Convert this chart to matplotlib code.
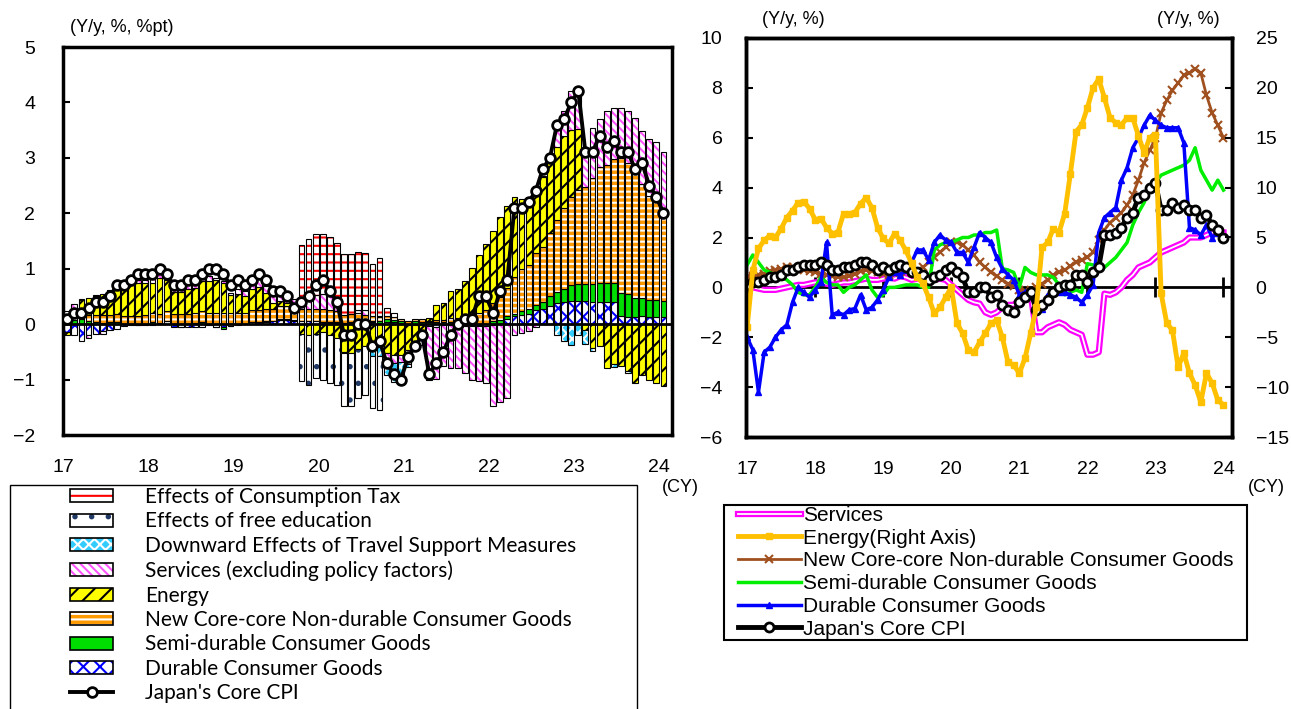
import numpy as np
import matplotlib.pyplot as plt
import matplotlib.patheffects as pe
from matplotlib.patches import Patch, Rectangle
from matplotlib.lines import Line2D
from matplotlib.legend_handler import HandlerTuple

plt.rcParams['font.family'] = ['Liberation Sans', 'DejaVu Sans']
plt.rcParams['hatch.linewidth'] = 1.5

months = np.arange(85)          # Jan 2017 .. Jan 2024
year_labels = ['17', '18', '19', '20', '21', '22', '23', '24']

core_cpi = [0.1, 0.2, 0.2, 0.3, 0.4, 0.4, 0.5, 0.7, 0.7, 0.8, 0.9, 0.9,
            0.9, 1.0, 0.9, 0.7, 0.7, 0.8, 0.8, 0.9, 1.0, 1.0, 0.9, 0.7,
            0.8, 0.7, 0.8, 0.9, 0.8, 0.6, 0.6, 0.5, 0.3, 0.4, 0.5, 0.7,
            0.8, 0.6, 0.4, -0.2, -0.2, 0.0, 0.0, -0.4, -0.3, -0.7, -0.9, -1.0,
            -0.6, -0.4, -0.2, -0.9, -0.7, -0.5, -0.2, 0.0, 0.1, 0.1, 0.5, 0.5,
            0.2, 0.6, 0.8, 2.1, 2.1, 2.2, 2.4, 2.8, 3.0, 3.6, 3.7, 4.0,
            4.2, 3.1, 3.1, 3.4, 3.2, 3.3, 3.1, 3.1, 2.8, 2.9, 2.5, 2.3,
            2.0]

# ---- left panel: contributions (%pt)
durable_c = [-0.15, -0.2, -0.3, -0.2, -0.17, -0.13, -0.11, -0.09, -0.04, 0.0, -0.01, -0.02,
             -0.01, 0.01, 0.05, -0.05, -0.05, -0.06, -0.05, -0.05, -0.02, -0.05, -0.05, -0.03,
             -0.02, 0.0, 0.03, 0.03, 0.04, 0.05, 0.08, 0.08, 0.06, 0.05, 0.06, 0.05,
             0.03, 0.02, 0.02, 0.0, 0.02, 0.05, 0.04, 0.03, 0.02, 0.04, 0.03, 0.02,
             -0.02, -0.01, -0.02, -0.04, -0.05, -0.02, -0.01, -0.01, -0.01, -0.02, -0.02, -0.03,
             -0.02, 0.01, 0.1, 0.14, 0.17, 0.19, 0.25, 0.28, 0.33, 0.38, 0.4, 0.42,
             0.42, 0.41, 0.4, 0.4, 0.4, 0.4, 0.14, 0.13, 0.12, 0.14, 0.12, 0.13,
             0.12]
semi_c = [0.06, 0.08, 0.09, 0.05, 0.03, 0.02, 0.03, 0.04, 0.0, -0.02, -0.01, 0.01,
          0.03, 0.01, 0.01, 0.0, -0.01, 0.0, 0.02, 0.03, 0.01, -0.01, -0.03, -0.01,
          0.0, 0.0, 0.01, 0.01, 0.01, 0.0, 0.01, 0.01, 0.01, 0.0, 0.0, 0.0,
          0.0, 0.01, 0.01, 0.02, 0.02, 0.03, 0.03, 0.02, 0.03, 0.05, 0.05, 0.04,
          0.0, 0.05, 0.04, 0.03, 0.03, 0.03, 0.03, 0.01, -0.02, -0.01, -0.01, -0.01,
          0.06, 0.06, 0.05, 0.05, 0.06, 0.08, 0.1, 0.12, 0.17, 0.2, 0.24, 0.28,
          0.3, 0.32, 0.33, 0.34, 0.34, 0.35, 0.43, 0.42, 0.36, 0.34, 0.32, 0.31,
          0.3]
nondur_c = [0.08, 0.1, 0.12, 0.12, 0.13, 0.14, 0.14, 0.15, 0.15, 0.15, 0.15, 0.16,
            0.17, 0.17, 0.18, 0.18, 0.18, 0.19, 0.19, 0.2, 0.2, 0.2, 0.2, 0.2,
            0.21, 0.21, 0.21, 0.22, 0.22, 0.22, 0.23, 0.24, 0.27, 0.22, 0.22, 0.23,
            0.24, 0.23, 0.2, 0.15, 0.14, 0.12, 0.1, 0.1, 0.08, 0.05, 0.05, 0.03,
            0.05, 0.05, 0.05, 0.03, 0.05, 0.05, 0.08, 0.1, 0.12, 0.15, 0.2, 0.25,
            0.33, 0.42, 0.5, 0.66, 0.77, 0.8, 0.93, 1.0, 1.15, 1.3, 1.45, 1.6,
            1.7, 1.75, 1.9, 2.1, 2.13, 2.23, 2.43, 2.35, 2.32, 2.04, 1.88, 1.78,
            1.65]
energy_c = [-0.05, 0.1, 0.22, 0.3, 0.35, 0.38, 0.42, 0.5, 0.5, 0.6, 0.6, 0.58,
            0.55, 0.65, 0.55, 0.4, 0.4, 0.45, 0.45, 0.55, 0.57, 0.6, 0.55, 0.33,
            0.33, 0.3, 0.38, 0.41, 0.3, 0.11, 0.1, 0.06, 0.0, -0.18, -0.2, -0.17,
            -0.15, -0.2, -0.25, -0.5, -0.52, -0.45, -0.4, -0.45, -0.42, -0.52, -0.55, -0.55,
            -0.45, -0.35, -0.25, 0.05, 0.27, 0.31, 0.48, 0.53, 0.66, 0.86, 1.04, 1.2,
            1.29, 1.44, 1.49, 1.45, 1.25, 1.22, 1.21, 1.26, 1.3, 1.32, 1.3, 1.2,
            1.1, -0.1, -0.43, -0.4, -0.79, -0.72, -0.76, -0.85, -1.06, -0.91, -1.0, -1.06,
            -1.12]
serv_c = [0.1, 0.08, 0.03, -0.05, 0.02, -0.05, 0.02, 0.03, 0.03, 0.04, 0.04, 0.04,
          0.06, 0.08, 0.05, 0.05, 0.05, 0.06, 0.05, 0.09, 0.08, 0.04, 0.03, 0.04,
          0.09, 0.09, 0.07, 0.15, 0.11, 0.15, 0.17, 0.15, 0.12, 0.15, 0.2, 0.25,
          0.28, 0.25, 0.15, -0.02, 0.0, 0.05, 0.08, 0.0, 0.02, -0.1, -0.15, -0.13,
          -0.25, -0.1, -0.1, -0.97, -0.94, -0.73, -0.79, -0.78, -0.85, -0.97, -1.0, -1.03,
          -1.45, -1.4, -1.33, -0.19, -0.16, -0.12, -0.05, 0.02, 0.1, 0.3, 0.45, 0.7,
          0.75, 0.53, 0.9, 0.86, 0.98, 0.92, 0.9, 0.95, 0.92, 0.96, 1.02, 1.06,
          1.03]
travel_c = [0] * 36 + \
           [0, 0, 0, 0, 0, 0, 0, -0.12, -0.15, -0.3, -0.35, -0.35] + \
           [-0.05] + [0] * 11 + \
           [0, 0, 0, 0, 0, 0, 0, 0, 0, -0.2, -0.3, -0.37] + \
           [-0.19, -0.25, -0.05, 0, 0, -0.05, 0, -0.03, 0, 0, 0, 0] + [0]
free_c = [0] * 33 + [-0.85, -0.89, -0.8] + \
         [-0.85, -0.86, -0.84, -0.96, -0.96, -0.88, -0.87, -0.94, -0.97, 0, 0, 0] + [0] * 37
tax_c = [0] * 33 + [1.0, 1.05, 1.09] + \
        [1.08, 1.06, 1.09, 1.09, 1.08, 1.06, 1.04, 0.93, 1.05, 0.15, 0.08, 0] + [0] * 37

# ---- right panel: y/y (%)
services_yy = [0.0, 0.0, -0.05, -0.1, -0.1, -0.1, -0.05, 0.0, 0.05, 0.1, 0.1, 0.15,
               0.2, 0.2, 0.15, 0.1, 0.15, 0.2, 0.2, 0.25, 0.3, 0.35, 0.3, 0.3,
               0.35, 0.4, 0.35, 0.45, 0.4, 0.3, 0.35, 0.4, 0.3, 0.3, 0.35, 0.3,
               0.1, -0.1, -0.3, -0.5, -0.6, -0.65, -1.0, -1.1, -1.0, -0.8, -0.7, -0.7,
               -0.5, -0.3, -0.3, -1.8, -1.8, -1.6, -1.5, -1.4, -1.5, -1.7, -1.8, -1.9,
               -2.7, -2.7, -2.6, -0.25, -0.3, -0.2, 0.0, 0.3, 0.5, 0.8, 0.9, 1.0,
               1.2, 1.4, 1.5, 1.6, 1.7, 1.8, 2.0, 2.0, 2.0, 2.1, 2.2, 2.2,
               2.2]
energy_yy = [-4.0, 1.7, 3.9, 4.7, 5.2, 5.0, 5.9, 7.0, 7.7, 8.5, 8.6, 7.9,
             6.8, 6.9, 6.0, 5.4, 5.5, 7.4, 7.4, 7.5, 8.4, 9.0, 8.0, 6.0,
             4.9, 4.4, 5.4, 4.7, 3.7, 2.4, 1.0, 0.4, -1.0, -2.6, -2.0, -1.0,
             0.0, -3.6, -4.6, -6.3, -6.5, -5.5, -4.6, -3.6, -3.3, -5.0, -7.5, -7.8,
             -8.6, -7.1, -4.6, -2.0, 4.0, 4.5, 5.9, 5.5, 7.4, 11.4, 15.6, 16.3,
             18.0, 20.0, 20.9, 19.0, 17.0, 16.5, 16.3, 17.0, 17.0, 15.2, 13.5, 15.0,
             15.3, -0.6, -3.6, -4.3, -8.0, -6.6, -8.6, -9.8, -11.5, -8.6, -9.6, -11.3,
             -11.8]
nondur_yy = [0.4, 0.45, 0.5, 0.55, 0.65, 0.7, 0.75, 0.8, 0.8, 0.75, 0.7, 0.65,
             0.6, 0.55, 0.5, 0.45, 0.4, 0.4, 0.45, 0.55, 0.65, 0.7, 0.65, 0.6,
             0.55, 0.5, 0.55, 0.6, 0.6, 0.6, 0.65, 0.8, 1.0, 1.2, 1.4, 1.6,
             1.8, 1.8, 1.7, 1.5, 1.3, 1.0, 0.8, 0.6, 0.45, 0.3, 0.15, 0.05,
             -0.1, -0.15, -0.1, 0.0, 0.15, 0.3, 0.5, 0.6, 0.7, 0.85, 1.0, 1.1,
             1.2, 1.4, 1.9, 2.3, 2.6, 2.8, 3.0, 3.3, 3.7, 4.3, 5.0, 5.5,
             6.0, 7.0, 7.5, 7.9, 8.2, 8.5, 8.6, 8.75, 8.6, 7.7, 7.0, 6.5,
             6.0]
semi_yy = [0.9, 1.3, 1.0, 0.7, 0.6, 0.5, 0.4, 0.3, 0.1, -0.2, -0.3, -0.3,
           0.0, 0.4, 0.2, 0.1, 0.1, -0.2, 0.0, 0.1, 0.3, 0.5, -0.1, -0.4,
           -0.3, 0.0, 0.0, 0.05, 0.1, 0.1, 0.1, 0.0, 0.0, 1.5, 1.7, 1.8,
           1.8, 1.9, 2.0, 2.0, 2.1, 2.1, 2.2, 2.2, 2.3, 0.75, 0.7, 0.6,
           0.0, 0.8, 0.6, 0.5, 0.5, 0.5, 0.4, 0.1, -0.3, -0.2, -0.1, -0.2,
           0.95, 0.9, 0.85, 0.8, 1.0, 1.2, 1.5, 1.8, 2.5, 3.0, 3.4, 4.0,
           4.2, 4.5, 4.6, 4.7, 4.8, 4.9, 5.1, 5.6, 4.7, 4.3, 3.9, 4.3,
           3.9]
durable_yy = [-2.0, -2.5, -4.2, -2.6, -2.4, -2.0, -1.7, -1.5, -0.6, 0.0, -0.2, -0.4,
              -0.1, 0.2, 1.8, -1.1, -1.0, -1.1, -0.9, -0.85, -0.3, -0.9, -0.8, -0.5,
              -0.1, 0.4, 0.6, 0.5, 0.7, 1.0, 1.5, 1.5, 1.1, 1.8, 2.1, 1.9,
              1.8, 1.4, 1.4, 1.0, 1.6, 2.2, 2.0, 1.8, 1.2, 0.75, 0.5, 0.3,
              -0.3, -0.2, -0.3, -0.65, -0.85, -0.3, -0.2, -0.2, -0.2, -0.3, -0.4, -0.6,
              -0.3, 0.1, 2.2, 2.8, 3.0, 3.2, 4.3, 4.8, 5.6, 6.0, 6.5, 6.9,
              6.7, 6.5, 6.4, 6.4, 6.4, 5.8, 2.4, 2.3, 2.1, 2.5, 2.0, 2.2,
              2.0]

W, H = 1291, 709
fig = plt.figure(figsize=(W / 100, H / 100), dpi=100)

def fx(px):
    return px / W

def fy(py):
    return 1 - py / H

# ================= left panel =================
ax = fig.add_axes([fx(63), fy(435), fx(672 - 63), (435 - 47) / H])

parts = [
    ('Durable Consumer Goods', durable_c, 'white', 'xx', '#0000FF'),
    ('Semi-durable Consumer Goods', semi_c, '#00DD00', '', '#00DD00'),
    ('New Core-core Non-durable Consumer Goods', nondur_c, '#FF9900', '---', 'white'),
    ('Energy', energy_c, '#FFFF00', '//', 'black'),
    ('Services (excluding policy factors)', serv_c, 'white', '\\\\\\\\', '#FF55FF'),
    ('Downward Effects of Travel Support Measures', travel_c, '#33CCFF', 'xxx', 'white'),
    ('Effects of free education', free_c, 'white', '.', '#1F3864'),
    ('Effects of Consumption Tax', tax_c, 'white', '--', '#FF0000'),
]

xb = months + 0.6
pos_base = np.zeros(len(months))
neg_base = np.zeros(len(months))
handles = {}
for label, vals, face, hatch, hcol in parts:
    v = np.array(vals, dtype=float)
    bottom = np.where(v >= 0, pos_base, neg_base)
    m = v != 0
    ax.bar(xb[m], v[m], 0.82, bottom=bottom[m], color=face, hatch=hatch,
           edgecolor=hcol, linewidth=0, zorder=2)
    ax.bar(xb[m], v[m], 0.82, bottom=bottom[m], facecolor='none',
           edgecolor='black', linewidth=0.8, zorder=2)
    pos_base += np.where(v > 0, v, 0)
    neg_base += np.where(v < 0, v, 0)
    handles[label] = (Patch(facecolor=face, hatch=hatch, edgecolor=hcol, linewidth=0),
                      Patch(facecolor='none', edgecolor='black', linewidth=1.2))

ax.axhline(0, color='black', lw=2, zorder=3)
ax.plot(xb, core_cpi, color='black', lw=2.8, marker='o', ms=7, mfc='white',
        mec='black', mew=2, zorder=5)

ax.set_xlim(0, 85.8)
ax.set_ylim(-2, 5)
ax.set_yticks(range(-2, 6))
ax.set_xticks(np.arange(0, 85, 12))
ax.set_xticklabels(year_labels)
ax.tick_params(axis='y', direction='in', length=5, width=1.5, labelsize=14, pad=20)
ax.tick_params(axis='x', length=0, labelsize=14, pad=17)
for s in ax.spines.values():
    s.set_linewidth(2.5)

fig.text(fx(70), fy(28), '(Y/y, %, %pt)', fontsize=13, va='center')
fig.text(fx(680), fy(488), '(CY)', fontsize=13, ha='center', va='center')

order = ['Effects of Consumption Tax', 'Effects of free education',
         'Downward Effects of Travel Support Measures', 'Services (excluding policy factors)',
         'Energy', 'New Core-core Non-durable Consumer Goods',
         'Semi-durable Consumer Goods', 'Durable Consumer Goods']
lh = [handles[k] for k in order]
lh.append(Line2D([], [], color='black', lw=2.8, marker='o', ms=7, mfc='white', mec='black', mew=2))
fig.patches.append(Rectangle((fx(10), -0.05), fx(637 - 10), fy(485) + 0.05,
                             transform=fig.transFigure, fill=False, ec='black', lw=1))
fig.legend(lh, order + ["Japan's Core CPI"], loc='upper left',
           bbox_to_anchor=(fx(70), fy(487)), frameon=False,
           prop={'family': 'Lato', 'size': 15}, handlelength=2.07, handleheight=0.6,
           handletextpad=1.55, labelspacing=0.215, borderpad=0, borderaxespad=0,
           handler_map={tuple: HandlerTuple(ndivide=1)})

# ================= right panel =================
ar = fig.add_axes([fx(746), fy(437), fx(1232 - 746), (437 - 38) / H])
ae = ar.twinx()

serv_fx = [pe.Stroke(linewidth=4.5, foreground='#FF00FF'), pe.Normal()]
ar.axhline(0, color='black', lw=2, zorder=1)
ar.plot(np.arange(0, 85, 12), np.zeros(8), ls='none', marker='|', ms=14, mew=2,
        color='black', zorder=1)
ar.plot(months, services_yy, color='white', lw=1.3, path_effects=serv_fx, zorder=2)
ar.plot(months, nondur_yy, color='#A0501E', lw=2, marker='x', ms=6, mew=1.5, zorder=3)
ar.plot(months, semi_yy, color='#00EE00', lw=2.5, zorder=3)
ar.plot(months, durable_yy, color='#0000FF', lw=2.5, marker='^', ms=4, zorder=4)
ar.plot(months, core_cpi, color='black', lw=3.5, marker='o', ms=6.5, mfc='white',
        mec='black', mew=2, zorder=5)
ae.plot(months, energy_yy, color='#FFC000', lw=3.5, marker='s', ms=5)

ar.set_xlim(-0.2, 85.5)
ar.set_ylim(-6, 10)
ar.set_yticks(range(-6, 11, 2))
ae.set_ylim(-15, 25)
ae.set_yticks(range(-15, 26, 5))
ar.set_xticks(np.arange(0, 85, 12))
ar.set_xticklabels(year_labels)
ar.tick_params(axis='y', direction='in', length=5, width=1.5, labelsize=14, pad=17)
ae.tick_params(axis='y', direction='in', length=5, width=1.5, labelsize=14, pad=17)
ar.tick_params(axis='x', length=0, labelsize=14, pad=17)
for a in (ar, ae):
    for s in a.spines.values():
        s.set_linewidth(2.5)

fig.text(fx(762), fy(20), '(Y/y, %)', fontsize=13, va='center')
fig.text(fx(1157), fy(20), '(Y/y, %)', fontsize=13, va='center')
fig.text(fx(1266), fy(487), '(CY)', fontsize=13, ha='center', va='center')

rh = [Line2D([], [], color='white', lw=1.3, path_effects=serv_fx),
      Line2D([], [], color='#FFC000', lw=3.5, marker='s', ms=5),
      Line2D([], [], color='#A0501E', lw=2, marker='x', ms=6, mew=1.5),
      Line2D([], [], color='#00EE00', lw=2.5),
      Line2D([], [], color='#0000FF', lw=2.5, marker='^', ms=4),
      Line2D([], [], color='black', lw=3.5, marker='o', ms=6.5, mfc='white', mec='black', mew=2)]
rl = ['Services', 'Energy(Right Axis)', 'New Core-core Non-durable Consumer Goods',
      'Semi-durable Consumer Goods', 'Durable Consumer Goods', "Japan's Core CPI"]
fig.patches.append(Rectangle((fx(724), fy(640)), fx(1247 - 724), (640 - 505) / H,
                             transform=fig.transFigure, fill=False, ec='black', lw=1.5))
fig.legend(rh, rl, loc='upper left', bbox_to_anchor=(fx(738), fy(506)), frameon=False,
           prop={'size': 15}, handlelength=3.0, handletextpad=0.12, labelspacing=0.18,
           borderpad=0, borderaxespad=0)

fig.savefig('out.png', dpi=100)
